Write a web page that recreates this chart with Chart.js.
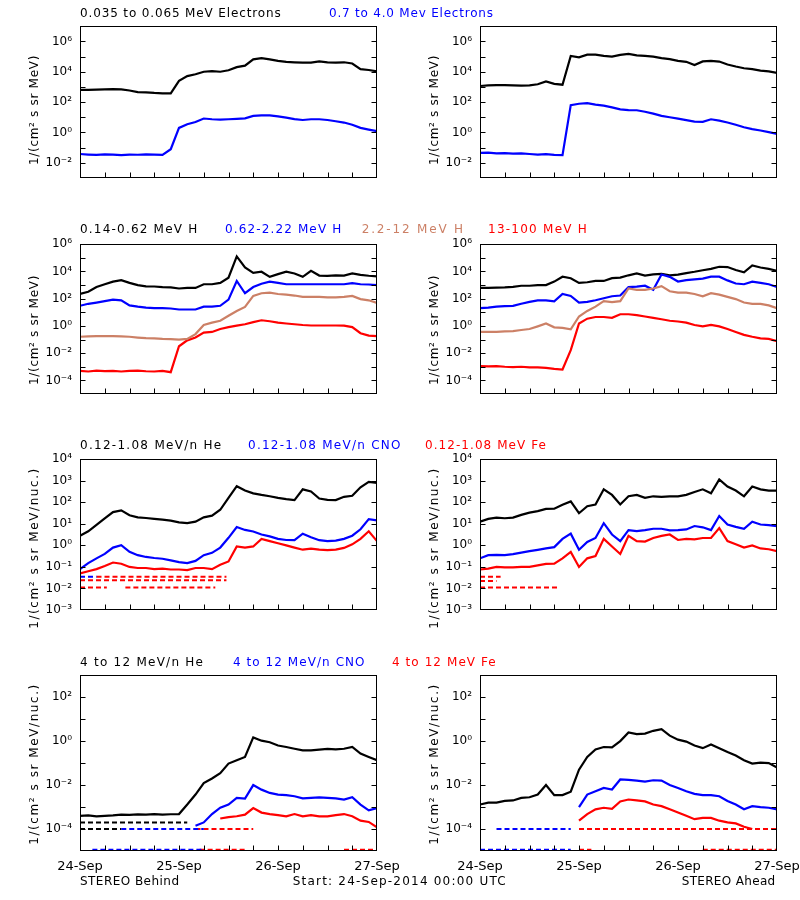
<!DOCTYPE html>
<html><head><meta charset="utf-8">
<script src="https://cdn.jsdelivr.net/npm/chart.js@4.4.1/dist/chart.umd.min.js"></script>
<style>
html,body{margin:0;padding:0;background:#fff;width:800px;height:900px;overflow:hidden;position:relative}
canvas{position:absolute}
.lbl{position:absolute;font-family:"DejaVu Sans";font-size:12px;line-height:12px;white-space:nowrap}
.yt{position:absolute;font-family:"DejaVu Sans";font-size:12px;line-height:12px;white-space:nowrap;transform:translate(-50%,-50%) rotate(-90deg)}
</style></head><body>
<script>
// ---------- time axis (hours after 24-Sep-2014 00:00 UTC) ----------
const hours = [0,2,4,6,8,10,12,14,16,18,20,22,24,26,28,30,32,34,36,38,40,42,44,46,48,50,52,54,56,58,60,62,64,66,68,70,72];
const dayTickHours = [0,24,48,72];
const dayTickLabels = ['24-Sep','25-Sep','26-Sep','27-Sep'];
const minorTickHours = [6,12,18,24,30,36,42,48,54,60,66];

// ---------- Row 1: electrons ----------
const behindElecLow  = [6.3e2,6.3e2,6.6e2,6.9e2,7.2e2,6.9e2,5.8e2,4.6e2,4.4e2,4.0e2,3.8e2,3.8e2,2.5e3,5.2e3,6.8e3,1.0e4,1.1e4,1.0e4,1.26e4,2.0e4,2.5e4,6.6e4,7.9e4,6.6e4,5.2e4,4.5e4,4.2e4,4.0e4,4.0e4,4.8e4,4.2e4,4.0e4,4.2e4,3.5e4,1.5e4,1.3e4,1.05e4];
const behindElecHigh = [3.8e-2,3.5e-2,3.3e-2,3.6e-2,3.5e-2,3.2e-2,3.5e-2,3.4e-2,3.6e-2,3.5e-2,3.3e-2,7.9e-2,2.0,3.5,4.9,8.3,7.4,7.1,7.4,7.9,8.5,12.3,13.5,13.5,11.5,9.5,7.6,6.6,7.4,7.4,6.6,5.5,4.5,3.2,2.0,1.55,1.23];
const aheadElecLow   = [1.15e3,1.26e3,1.3e3,1.3e3,1.26e3,1.2e3,1.26e3,1.5e3,2.3e3,1.6e3,1.4e3,1.1e5,8.9e4,1.35e5,1.35e5,1.1e5,1.0e5,1.3e5,1.5e5,1.2e5,1.1e5,1.0e5,7.8e4,6.8e4,5.2e4,4.5e4,2.8e4,4.8e4,5.2e4,4.7e4,3.0e4,2.2e4,1.7e4,1.5e4,1.2e4,1.05e4,8.5e3];
const aheadElecHigh  = [4.5e-2,4.7e-2,4.2e-2,4.4e-2,4.0e-2,4.2e-2,3.8e-2,3.5e-2,3.7e-2,3.3e-2,3.2e-2,63,78,85,68,58,45,33,30,29,23,17.4,12.3,10,8.1,6.5,5.2,5.0,7.4,6.0,4.5,3.2,2.2,1.66,1.35,1.05,0.81];

// ---------- Row 2: protons ----------
const behindH1 = [2.2e2,3.2e2,7.1e2,1.15e3,1.8e3,2.3e3,1.45e3,9.8e2,8.1e2,7.8e2,7.1e2,6.8e2,5.6e2,6.2e2,6.2e2,1.15e3,1.15e3,1.45e3,3.5e3,1.26e5,2.0e4,7.9e3,9.5e3,4.0e3,6.3e3,9.5e3,7.1e3,4.0e3,1.1e4,5.0e3,4.8e3,5.2e3,5.0e3,7.1e3,5.6e3,4.8e3,4.3e3];
const behindH2 = [30,42,52,66,85,76,32,26,22,20,20,19,16,16,16,26,26,30,85,2.0e3,2.5e2,7.1e2,1.26e3,1.8e3,1.45e3,1.15e3,1.15e3,1.15e3,1.15e3,1.15e3,1.15e3,1.15e3,1.15e3,1.4e3,1.15e3,1.1e3,1.0e3];
const behindH3 = [0.16,0.17,0.18,0.18,0.18,0.17,0.16,0.14,0.126,0.12,0.11,0.107,0.10,0.11,0.25,1.17,1.74,2.4,5.6,12.6,25,1.6e2,2.5e2,2.75e2,2.2e2,2.0e2,1.7e2,1.35e2,1.35e2,1.35e2,1.23e2,1.23e2,1.35e2,1.6e2,93,76,48];
const behindH4 = [5.0e-4,4.5e-4,5.2e-4,4.8e-4,5.0e-4,4.5e-4,5.0e-4,5.2e-4,4.7e-4,4.5e-4,5.0e-4,4.0e-4,3.2e-2,8.7e-2,0.14,0.32,0.36,0.59,0.81,1.05,1.32,1.9,2.6,2.2,1.74,1.5,1.32,1.17,1.07,1.07,1.07,1.07,1.05,0.81,0.29,0.195,0.18];
const aheadH1  = [6.2e2,6.2e2,6.5e2,6.8e2,7.4e2,8.9e2,8.9e2,9.8e2,1.0e3,1.8e3,4.1e3,3.2e3,1.45e3,1.6e3,2.0e3,2.0e3,3.2e3,3.5e3,5.2e3,7.1e3,5.0e3,6.0e3,6.6e3,5.2e3,5.8e3,7.6e3,9.5e3,1.23e4,1.55e4,2.2e4,2.1e4,1.26e4,8.7e3,2.8e4,1.95e4,1.55e4,1.12e4];
const aheadH2  = [20,22,26,28,30,42,58,76,76,63,2.2e2,1.6e2,52,58,76,1.07e2,1.5e2,1.7e2,7.1e2,7.6e2,8.9e2,4.5e2,6.0e3,4.0e3,1.8e3,2.3e3,2.6e3,3.0e3,4.1e3,4.1e3,2.2e3,1.3e3,1.15e3,1.8e3,1.45e3,1.15e3,7.1e2];
const aheadH3  = [0.36,0.36,0.37,0.40,0.42,0.50,0.59,0.93,1.5,0.79,0.71,0.56,4.9,12.6,26,66,56,66,5.6e2,4.5e2,4.5e2,5.6e2,8.3e2,3.5e2,2.75e2,2.75e2,2.2e2,1.5e2,2.5e2,2.0e2,1.35e2,93,52,42,42,32,20];
const aheadH4  = [1.12e-3,1.07e-3,1.1e-3,1.0e-3,9.5e-4,1.0e-3,8.9e-4,8.9e-4,8.3e-4,7.1e-4,6.3e-4,1.66e-2,1.5,3.4,4.5,4.5,3.9,7.2,7.2,6.2,4.9,3.9,3.1,2.4,2.1,1.74,1.17,0.93,1.17,0.93,0.59,0.36,0.22,0.16,0.123,0.112,0.076];

// ---------- Row 3: 0.12-1.08 MeV/n ions ----------
const behindHe  = [2.8,4.5,8.9,17.8,35,42,25,20,18.6,17,15.8,14.1,11.7,10.7,12.6,20,24,45,1.6e2,5.6e2,3.5e2,2.6e2,2.2e2,1.9e2,1.6e2,1.4e2,1.26e2,4.0e2,3.2e2,1.5e2,1.3e2,1.26e2,1.8e2,2.0e2,5.0e2,8.9e2,7.9e2];
const behindCNO = [7.9e-2,0.15,0.25,0.40,0.79,1.02,0.50,0.35,0.29,0.26,0.24,0.20,0.166,0.15,0.19,0.35,0.45,0.79,2.24,7.1,5.2,4.4,3.2,2.6,2.0,1.78,1.74,3.5,2.4,1.74,1.58,1.66,2.0,2.8,5.6,16.6,14.5];
const behindFe  = [5.0e-2,6.3e-2,7.9e-2,0.11,0.16,0.14,0.10,8.9e-2,8.9e-2,7.9e-2,8.3e-2,7.6e-2,7.6e-2,7.1e-2,8.9e-2,8.9e-2,7.9e-2,0.126,0.18,0.89,0.79,0.89,2.0,1.58,1.26,1.0,0.79,0.63,0.71,0.63,0.60,0.63,0.76,1.12,2.0,4.5,1.58];
const aheadHe   = [12.6,17,19.5,18.2,19.5,26,33,39,49,50,76,1.1e2,31,66,79,4.0e2,2.2e2,79,1.9e2,2.2e2,1.6e2,1.9e2,1.8e2,1.9e2,1.9e2,2.2e2,3.0e2,4.0e2,2.6e2,1.15e3,5.4e2,3.5e2,1.9e2,5.4e2,4.0e2,3.5e2,3.5e2];
const aheadCNO  = [0.25,0.35,0.36,0.35,0.39,0.46,0.54,0.62,0.72,0.83,2.0,3.5,0.63,1.45,2.2,10.7,3.2,1.58,5.1,4.6,5.1,5.9,5.9,5.0,5.1,5.5,7.9,6.9,5.1,23,9.3,7.2,5.9,12.6,9.3,8.7,7.9];
const aheadFe   = [7.6e-2,8.3e-2,0.10,9.5e-2,9.5e-2,0.10,0.10,0.117,0.138,0.14,0.25,0.50,0.10,0.25,0.32,2.0,0.89,0.40,2.75,1.58,1.5,2.2,2.75,3.2,1.78,2.0,1.9,2.2,2.2,6.3,1.58,1.12,0.79,1.0,0.72,0.66,0.54];
// count-floor levels: [species, level, from hour, to hour]
const behindLowFloors = [['CNO',3.5e-2,0,4],['Fe',3.5e-2,4,35.5],['Fe',2.4e-2,0,35.5],['Fe',1.1e-2,0,6.5],['Fe',1.1e-2,11,32.8]];
const aheadLowFloors  = [['Fe',3.5e-2,0,5],['Fe',2.2e-2,0,4],['Fe',1.1e-2,0,19]];

// ---------- Row 4: 4-12 MeV/n ions ----------
const behindHe4  = [4.0e-4,4.2e-4,3.8e-4,4.0e-4,4.2e-4,4.5e-4,4.4e-4,4.6e-4,4.5e-4,4.8e-4,4.5e-4,4.7e-4,4.8e-4,1.3e-3,3.7e-3,1.23e-2,2.0e-2,3.5e-2,9.5e-2,0.135,0.19,1.48,1.05,0.89,0.63,0.54,0.45,0.38,0.38,0.41,0.44,0.42,0.45,0.54,0.27,0.19,0.135];
const behindCNO4 = [null,null,null,null,null,null,null,null,null,null,null,null,null,null,1.4e-4,2.0e-4,4.8e-4,9.3e-4,1.3e-3,2.6e-3,2.4e-3,1.0e-2,6.2e-3,4.4e-3,3.7e-3,3.5e-3,3.1e-3,2.5e-3,2.6e-3,2.75e-3,2.6e-3,2.5e-3,2.2e-3,2.8e-3,1.3e-3,7.1e-4,8.9e-4];
const behindFe4  = [null,null,null,null,null,null,null,null,null,null,null,null,null,null,null,null,null,3.0e-4,3.5e-4,3.8e-4,4.5e-4,9.0e-4,5.6e-4,4.8e-4,4.3e-4,3.8e-4,4.8e-4,3.8e-4,4.3e-4,3.8e-4,3.8e-4,4.3e-4,4.8e-4,3.8e-4,2.4e-4,2.1e-4,1.2e-4];
const aheadHe4   = [1.3e-3,1.6e-3,1.6e-3,1.9e-3,2.0e-3,2.6e-3,2.8e-3,3.7e-3,1.0e-2,3.5e-3,3.5e-3,5.0e-3,5.0e-2,0.19,0.42,0.54,0.52,1.0,2.5,2.1,2.2,2.95,3.5,1.78,1.17,0.95,0.63,0.48,0.71,0.48,0.32,0.22,0.135,9.5e-2,0.105,0.10,6.3e-2];
const aheadCNO4  = [null,null,null,null,null,null,null,null,null,null,null,null,1.0e-3,3.7e-3,5.2e-3,7.4e-3,6.3e-3,1.8e-2,1.74e-2,1.6e-2,1.45e-2,1.66e-2,1.6e-2,1.0e-2,7.4e-3,5.2e-3,4.0e-3,3.5e-3,3.5e-3,3.1e-3,1.9e-3,1.3e-3,7.9e-4,1.1e-3,1.0e-3,9.3e-4,7.9e-4];
const aheadFe4   = [null,null,null,null,null,null,null,null,null,null,null,null,2.4e-4,4.8e-4,7.9e-4,9.3e-4,8.3e-4,1.8e-3,2.2e-3,2.0e-3,1.8e-3,1.3e-3,1.1e-3,7.9e-4,5.6e-4,4.0e-4,2.8e-4,3.2e-4,3.2e-4,2.4e-4,2.0e-4,1.8e-4,1.26e-4,1.0e-4,null,null,null];
const behindHighFloors = [['He',2.0e-4,0,26],['He',1.0e-4,0,10],['CNO',1.0e-4,10,30],['CNO',1.15e-5,3,30],['Fe',1.0e-4,28,42],['Fe',1.15e-5,29,40],['Fe',1.15e-5,64,72]];
const aheadHighFloors  = [['CNO',1.0e-4,4,22],['CNO',1.15e-5,0,22],['Fe',1.0e-4,24,72],['Fe',1.15e-5,24,27],['Fe',1.15e-5,54,72]];

// ---------- y tick labels ----------
const row1TickLabels = ['10⁶','10⁴','10²','10⁰','10⁻²'];
const row1TickValues = [1e6,1e4,1e2,1,1e-2];
const row1MarkValues = [1e-2,1e-1,1,1e1,1e2,1e3,1e4,1e5,1e6];
const row2TickLabels = ['10⁶','10⁴','10²','10⁰','10⁻²','10⁻⁴'];
const row2TickValues = [1e6,1e4,1e2,1,1e-2,1e-4];
const row2MarkValues = [1e-4,1e-3,1e-2,1e-1,1,1e1,1e2,1e3,1e4,1e5];
const row3TickLabels = ['10⁴','10³','10²','10¹','10⁰','10⁻¹','10⁻²','10⁻³'];
const row3TickValues = [1e4,1e3,1e2,1e1,1,1e-1,1e-2,1e-3];
const row3MarkValues = [1e-2,1e-1,1,1e1,1e2,1e3];
const row4TickLabels = ['10²','10⁰','10⁻²','10⁻⁴'];
const row4TickValues = [1e2,1,1e-2,1e-4];
const row4MarkValues = [1e-4,1e-3,1e-2,1e-1,1,1e1,1e2];

// ---------- styling / layout ----------
const C = {black:'#000000', blue:'#0000ff', red:'#ff0000', brown:'#cc8066'};
const speciesColor = {He:C.black, CNO:C.blue, Fe:C.red};
const rowsGeom = [
  {top:23, h:180, min:1e-3, max:1e7, labels:row1TickLabels, values:row1TickValues, marks:row1MarkValues},
  {top:241, h:178, min:1e-5, max:1e6, labels:row2TickLabels, values:row2TickValues, marks:row2MarkValues},
  {top:456, h:179, min:1e-3, max:1e4, labels:row3TickLabels, values:row3TickValues, marks:row3MarkValues},
  {top:672, h:179, min:1e-5, max:1e3, labels:row4TickLabels, values:row4TickValues, marks:row4MarkValues}
];
const colsLeft = [80, 480];
const plotW = 297;

const panels = [
  {row:0,col:0, series:[[behindElecHigh,C.blue],[behindElecLow,C.black]], floors:[]},
  {row:0,col:1, series:[[aheadElecHigh,C.blue],[aheadElecLow,C.black]], floors:[]},
  {row:1,col:0, series:[[behindH3,C.brown],[behindH4,C.red],[behindH2,C.blue],[behindH1,C.black]], floors:[]},
  {row:1,col:1, series:[[aheadH3,C.brown],[aheadH4,C.red],[aheadH2,C.blue],[aheadH1,C.black]], floors:[]},
  {row:2,col:0, series:[[behindFe,C.red],[behindCNO,C.blue],[behindHe,C.black]], floors:behindLowFloors},
  {row:2,col:1, series:[[aheadFe,C.red],[aheadCNO,C.blue],[aheadHe,C.black]], floors:aheadLowFloors},
  {row:3,col:0, series:[[behindFe4,C.red],[behindCNO4,C.blue],[behindHe4,C.black]], floors:behindHighFloors},
  {row:3,col:1, series:[[aheadFe4,C.red],[aheadCNO4,C.blue],[aheadHe4,C.black]], floors:aheadHighFloors}
];

Chart.defaults.font.family = 'DejaVu Sans';
Chart.defaults.font.size = 12;
Chart.defaults.color = '#000';

const framePlugin = {
  id:'frame',
  afterDatasetsDraw(chart, args, opts){
    const {ctx, chartArea:a} = chart;
    const x = chart.scales.x, y = chart.scales.y;
    ctx.save();
    ctx.strokeStyle = '#000'; ctx.lineWidth = 1;
    const L = Math.round(a.left)+0.5, R = Math.round(a.right)-0.5, T = Math.round(a.top)+0.5, B = Math.round(a.bottom)-0.5;
    ctx.strokeRect(L, T, R-L, B-T);
    ctx.beginPath();
    opts.marks.forEach(v => {
      const py = Math.round(y.getPixelForValue(v))+0.5;
      ctx.moveTo(L,py); ctx.lineTo(L+5,py);
      ctx.moveTo(R,py); ctx.lineTo(R-5,py);
    });
    minorTickHours.forEach(hh => {
      const px = Math.round(x.getPixelForValue(hh))+0.5;
      ctx.moveTo(px,B); ctx.lineTo(px,B-5);
    });
    ctx.stroke();
    ctx.restore();
  }
};

const PADT = 12, PADB = 12, XAXH = 25, CW = 420;
panels.forEach(p => {
  const g = rowsGeom[p.row];
  const bottomRow = p.row === 3;
  const cv = document.createElement('canvas');
  const ch = PADT + g.h + (bottomRow ? XAXH + 2 : PADB);
  cv.width = CW; cv.height = ch;
  cv.style.left = (colsLeft[p.col]-80)+'px';
  cv.style.top = (g.top-PADT)+'px';
  cv.style.width = CW+'px'; cv.style.height = ch+'px';
  document.body.appendChild(cv);

  const datasets = [];
  p.floors.forEach(f => {
    datasets.push({data:[{x:f[2],y:f[1]},{x:f[3],y:f[1]}], borderColor:speciesColor[f[0]], borderWidth:2, borderDash:[5,3], pointRadius:0, fill:false});
  });
  p.series.forEach(s => {
    const pts = hours.map((hh,i)=>({x:hh, y:s[0][i]})).filter(q => q.y !== null);
    datasets.push({data:pts, borderColor:s[1], borderWidth:2.2, pointRadius:0, fill:false, tension:0});
  });

  new Chart(cv, {
    type:'line',
    data:{datasets},
    options:{
      responsive:false, animation:false, devicePixelRatio:1,
      layout:{padding:{left:0, right:CW-80-plotW, top:PADT, bottom: bottomRow ? 2 : PADB}},
      plugins:{legend:{display:false}, tooltip:{enabled:false}, frame:{marks:g.marks}},
      scales:{
        x:{type:'linear', min:0, max:72, display:bottomRow,
           grid:{display:false, drawTicks:false}, border:{display:false},
           ticks:{autoSkip:false, maxRotation:0, padding:8, font:{size:13}, color:'#000',
                  callback:(v,i)=>dayTickLabels[i]},
           afterBuildTicks:s=>{ s.ticks = dayTickHours.map(v=>({value:v})); },
           afterFit:s=>{ s.height = XAXH; }},
        y:{type:'logarithmic', min:g.min, max:g.max,
           grid:{display:false, drawTicks:false}, border:{display:false},
           ticks:{autoSkip:false, padding:8, font:{size:12}, color:'#000',
                  callback:(v,i)=>g.labels[i]},
           afterBuildTicks:s=>{ s.ticks = g.values.map(v=>({value:v})); },
           afterFit:s=>{ s.width = 80; }}
      }
    },
    plugins:[framePlugin]
  });
});

// ---------- texts ----------
const texts = [
  ['0.035 to 0.065 MeV Electrons',80,17.5,201,C.black],
  ['0.7 to 4.0 Mev Electrons',329,17.5,165,C.blue],
  ['0.14-0.62 MeV H',80,232.7,118,C.black],
  ['0.62-2.22 MeV H',225,232.7,117,C.blue],
  ['2.2-12 MeV H',361.7,232.7,103,C.brown],
  ['13-100 MeV H',488,232.7,100,C.red],
  ['0.12-1.08 MeV/n He',80,449.3,142,C.black],
  ['0.12-1.08 MeV/n CNO',248,449.3,154,C.blue],
  ['0.12-1.08 MeV Fe',425,449.3,122,C.red],
  ['4 to 12 MeV/n He',80,666,124,C.black],
  ['4 to 12 MeV/n CNO',233,666,133,C.blue],
  ['4 to 12 MeV Fe',392,666,105,C.red],
  ['STEREO Behind',80,885,100,C.black],
  ['Start: 24-Sep-2014 00:00 UTC',292.7,885,214,C.black],
  ['STEREO Ahead',681.7,885,94,C.black]
];
function fit(el, target, txt){
  const nat = el.offsetWidth;
  el.style.letterSpacing = ((target - nat)/txt.length).toFixed(2)+'px';
}
texts.forEach(t => {
  const d = document.createElement('div');
  d.className = 'lbl'; d.textContent = t[0];
  d.style.left = t[1]+'px'; d.style.top = (t[2]-10.15)+'px'; d.style.color = t[4];
  document.body.appendChild(d);
  fit(d, t[3], t[0]);
});
const yTitles = [
  ['1/(cm² s sr MeV)',110,110],
  ['1/(cm² s sr MeV)',330,110],
  ['1/(cm² s sr MeV/nuc.)',548,162],
  ['1/(cm² s sr MeV/nuc.)',764,162]
];
yTitles.forEach(t => {
  [34, 434].forEach(cx => {
    const d = document.createElement('div');
    d.className = 'yt'; d.textContent = t[0];
    d.style.left = cx+'px'; d.style.top = t[1]+'px';
    document.body.appendChild(d);
    fit(d, t[2], t[0]);
  });
});
</script>
</body></html>
